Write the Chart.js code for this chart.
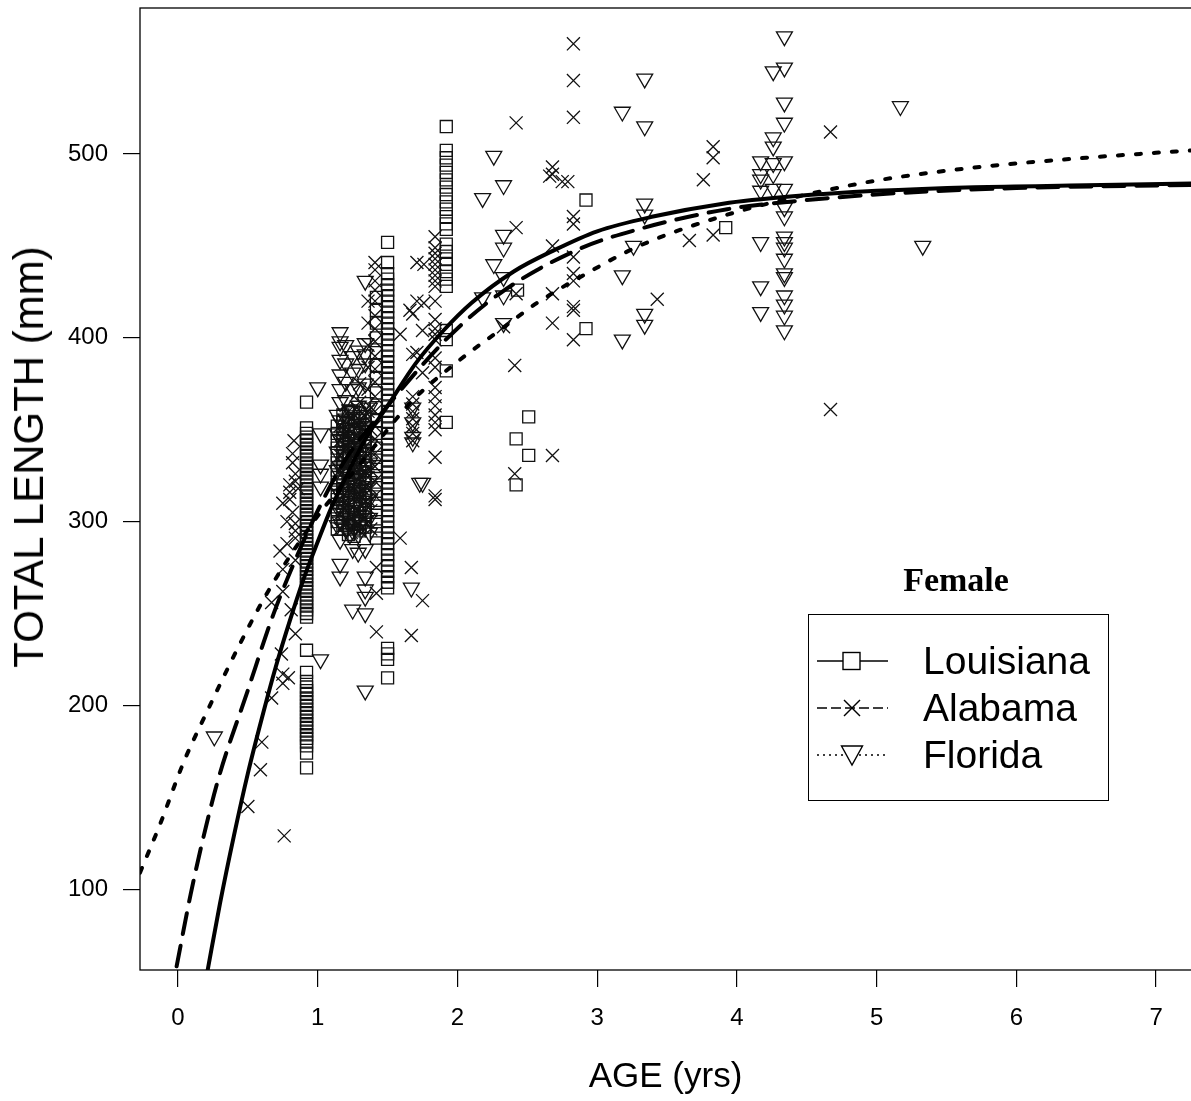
<!DOCTYPE html>
<html>
<head>
<meta charset="utf-8">
<script src="https://cdn.jsdelivr.net/npm/chart.js@4/dist/chart.umd.min.js"></script>
<style>
html,body{margin:0;padding:0;background:#fff;}
#wrap{position:relative;width:1191px;height:1101px;overflow:hidden;}
#c{position:absolute;left:0;top:0;}
#ytitle{position:absolute;left:29px;top:457px;transform:translate(-50%,-50%) rotate(-90deg);font:42px/42px "Liberation Sans",Arial,sans-serif;color:#000;white-space:nowrap;}
#female{position:absolute;left:856px;top:563px;width:200px;text-align:center;font:bold 34px/34px "Liberation Serif","Times New Roman",serif;color:#000;}
#legend{position:absolute;left:808px;top:614px;width:301px;height:187px;box-sizing:border-box;border:1.3px solid #000;background:#fff;}
.row{position:absolute;left:0;width:299px;height:38px;}
.row svg{position:absolute;left:8px;top:0;}
.row span{position:absolute;left:114px;top:0;font:39px/38px "Liberation Sans",Arial,sans-serif;color:#000;white-space:nowrap;}
</style>
</head>
<body>
<div id="wrap">
<canvas id="c" width="1191" height="1101"></canvas>
<div id="ytitle">TOTAL LENGTH (mm)</div>
<div id="female">Female</div>
<div id="legend">
  <div class="row" style="top:27px">
    <svg width="80" height="38"><line x1="0" y1="19" x2="71" y2="19" stroke="#000" stroke-width="1.3"/><rect x="26" y="10.5" width="17" height="17" fill="#fff" stroke="#000" stroke-width="1.4"/></svg>
    <span>Louisiana</span>
  </div>
  <div class="row" style="top:74px">
    <svg width="80" height="38"><line x1="0" y1="19" x2="71" y2="19" stroke="#000" stroke-width="1.3" stroke-dasharray="10,4"/><line x1="27" y1="11" x2="43" y2="27" stroke="#000" stroke-width="1.4"/><line x1="27" y1="27" x2="43" y2="11" stroke="#000" stroke-width="1.4"/></svg>
    <span>Alabama</span>
  </div>
  <div class="row" style="top:121px">
    <svg width="80" height="38"><line x1="0" y1="19" x2="71" y2="19" stroke="#000" stroke-width="1.3" stroke-dasharray="2,4"/><polygon points="24.5,10 45.5,10 35,29" fill="#fff" stroke="#000" stroke-width="1.4"/></svg>
    <span>Florida</span>
  </div>
</div>
</div>
<script>
// ---- axis ticks ----
const xTicks = [0, 1, 2, 3, 4, 5, 6, 7];
const yTicks = [100, 200, 300, 400, 500];

// ---- Louisiana observations (squares) ----
const laColAge = [0.92, 1.14, 1.18, 1.22, 1.26, 1.30, 1.34, 1.42, 1.50, 1.92];
const laColLen = [
  [365,351,348,346,344,342,340,338,336,334,332,330,328,326,324,322,320,318,316,314,312,310,308,306,304,302,300,298,296,294,292,290,288,286,284,282,280,278,276,274,272,270,268,266,264,262,260,258,256,254,252,250,248,230,218,213,210,208,206,204,202,200,198,196,194,192,190,188,186,184,182,180,178,174,166],
  [352,348,344,340,336,332,328,324,320,316,312,308,304,300,296],
  [358,354,350,346,342,338,334,330,326,322,318,314,310,306,302,298],
  [360,357,353,349,345,341,337,333,329,325,321,317,313,309,305,301,297,293],
  [356,352,348,344,340,336,332,328,324,320,316,312,308,304,300,296,292],
  [359,355,351,347,343,339,335,331,327,323,319,315,311,307,303,299,295],
  [357,353,349,345,341,337,333,329,325,321,317,313,309,305,301,297],
  [422,415,408,400,392,385,378,370,362,355,348,340,335,330,325,320,315,310,305,300,295,291],
  [452,441,435,432,429,426,423,420,417,414,411,408,405,402,399,396,393,390,387,384,381,378,375,372,369,366,363,360,357,354,351,348,345,342,339,336,333,330,327,324,321,318,315,312,309,306,303,300,297,294,291,288,285,282,279,276,273,270,267,264,231,228,225,215],
  [515,502,498,494,490,486,482,478,474,470,466,462,459,451,447,443,440,436,432,428,404,399,382,354]
];
const laAge = [2.51, 2.42, 2.51, 2.42, 2.43, 2.92, 2.92, 3.92];
const laLen = [357, 345, 336, 320, 426, 475, 405, 460];

// ---- Alabama observations (crosses) ----
const alColAge = [1.16, 1.19, 1.22, 1.24, 1.28, 1.30, 1.32, 1.34, 1.36, 1.38, 1.41, 1.68, 1.84];
const alColLen = [
  [296,304,312,320,328,336,344,352],
  [299,307,315,323,331,339,347,355],
  [300,310,320,330,340,350,360],
  [294,302,314,326,334,344,356],
  [298,306,314,322,330,338,346,354,362],
  [295,305,315,325,335,345,355,365,375],
  [297,309,318,329,339,351,359],
  [302,311,319,327,341,349,357],
  [300,312,324,336,348,360,372,384,396,408,420],
  [296,306,318,328,338,350,362],
  [441,437,431,426,420,412,405,398,390,383,376,368,360,352,345,337,330,322,314],
  [368,364,360,356,352,348,344],
  [455,449,446,443,440,437,434,431,428,420,410,405,402,399,389,384,373,368,363,358,354,350,335,314,312]
];
const alAge = [0.60,0.59,0.50,0.76,0.67,0.75,0.79,0.75,0.74,0.84,0.81,0.75,0.67,0.75,0.73,0.78,0.84,0.75,0.84,0.84,0.84,0.84,0.84,0.83,0.80,0.80,0.80,0.82,0.78,0.82,0.82,0.86,
  1.42,1.42,1.42,1.59,1.59,1.67,1.75,1.67,1.68,1.68,1.76,1.76,1.75,1.75,1.71,1.66,1.71,1.71,
  2.42,2.42,2.68,2.68,2.79,2.83,2.83,2.83,2.68,2.68,2.68,2.83,2.83,2.83,2.83,2.83,2.83,2.83,2.83,2.42,2.41,2.68,2.41,2.33,3.43,3.66,3.83,3.76,3.83,3.83,4.67,4.67,2.75,2.66];
const alLen = [180,165,145,129,204,217,215,212,228,239,252,262,256,274,284,288,279,310,299,295,291,322,326,344,320,316,312,305,300,332,337,318,
  240,261,275,402,291,275,257,238,413,391,440,419,404,381,441,415,420,392,
  517,460,493,489,485,560,540,520,450,424,408,466,462,444,435,431,417,415,399,424,385,336,326,406,421,453,456,486,504,498,512,361,485,488];

// ---- Florida observations (down triangles) ----
const flColAge = [1.14, 1.16, 1.20, 1.23, 1.25, 1.29, 1.31, 1.34, 1.37];
const flColLen = [
  [358,348,338,328,318,308,298],
  [403,398,395,388,380,372,365,355,345,330,315,300,290,277,270],
  [396,386,376,366,356,346,336,326,316,306,296],
  [361,351,341,331,321,311,301,293],
  [390,381,372,360,340,320,305,295,285,252],
  [393,383,373,363,353,343,333,323,313,303,293,283],
  [358,348,338,328,318,308,298],
  [431,397,391,386,375,365,350,330,310,300,285,270,263,259,250,208],
  [362,352,342,332,322,312,302,294]
];
const flAge = [0.26,1.00,1.02,1.02,1.02,1.02,1.02,1.67,1.73,1.75,1.68,1.68,1.68,1.68,
  2.26,2.33,2.18,2.33,2.33,2.26,2.33,2.18,2.33,2.33,3.18,3.34,3.34,3.26,3.18,3.34,3.34,3.34,3.34,3.18,
  4.34,4.34,4.26,4.34,4.34,4.26,4.26,4.17,4.26,4.34,4.17,4.17,4.26,4.17,4.26,4.34,4.34,4.34,4.17,4.34,4.34,4.34,4.34,4.34,4.34,4.17,4.34,4.34,4.17,4.34,4.34,5.17,5.33];
const flLen = [183,373,348,331,326,319,225,264,321,321,362,354,346,343,
  499,483,476,456,449,440,433,422,423,408,523,541,515,450,434,473,467,413,407,399,
  564,547,545,528,517,509,504,496,495,496,489,486,489,480,481,481,471,466,452,455,452,449,443,435,433,428,423,418,414,412,404,526,450];

// ---- fitted growth curves ----
const laFitAge = [0.21,0.3,0.4,0.5,0.6,0.7,0.8,0.9,1.0,1.1,1.2,1.35,1.5,1.7,1.9,2.1,2.4,2.7,3.0,3.4,3.9,4.4,5.0,5.7,6.5,7.25];
const laFitLen = [55,92,129,163,193,221,246,269,289,308,324,346,363,386,404,419,436,448,458,466,473,477,480,482,483,484];
const alFitAge = [-0.01,0.09,0.2,0.3,0.49,0.68,0.85,1.02,1.2,1.5,1.93,2.3,2.86,3.29,3.93,4.5,5.2,6.0,7.25];
const alFitLen = [58,97,134,163,206,249,281,309,334,363,400,424,448,459,470,475,479,481.5,483.2];
const flFitAge = [-0.272,-0.13,0.04,0.21,0.44,0.66,0.99,1.3,1.68,2.0,2.3,2.57,2.9,3.3,3.93,4.5,5.03,5.74,6.5,7.25];
const flFitLen = [109,135,169,197,233,264,302,331,366,387,404,419,434,450,467,478,486,493,498,502];

function pts(colAge, colLen, age, len) {
  const out = [];
  colAge.forEach((a, i) => colLen[i].forEach(v => out.push({x: a, y: v})));
  age.forEach((a, i) => out.push({x: a, y: len[i]}));
  return out;
}
function line(age, len) { return age.map((a, i) => ({x: a, y: len[i]})); }

const markerBase = {
  showLine: false,
  backgroundColor: 'rgba(0,0,0,0)',
  borderColor: '#000',
  pointBackgroundColor: 'rgba(0,0,0,0)',
  pointBorderColor: '#111',
  pointBorderWidth: 1.3,
  order: 2
};
const curveBase = {
  showLine: true,
  pointRadius: 0,
  borderColor: '#000',
  borderWidth: 4,
  borderCapStyle: 'round',
  cubicInterpolationMode: 'monotone',
  fill: false,
  order: 0
};

const boxPlugin = {
  id: 'box',
  afterDraw(chart) {
    const {ctx, chartArea: a} = chart;
    ctx.save();
    ctx.strokeStyle = '#000';
    ctx.lineWidth = 1.3;
    ctx.strokeRect(a.left, a.top, a.right - a.left + 10, a.bottom - a.top);
    ctx.restore();
  }
};

new Chart(document.getElementById('c'), {
  type: 'scatter',
  data: {
    datasets: [
      Object.assign({}, curveBase, {label: 'Louisiana fit', data: line(laFitAge, laFitLen)}),
      Object.assign({}, curveBase, {label: 'Alabama fit', data: line(alFitAge, alFitLen), borderDash: [21, 12]}),
      Object.assign({}, curveBase, {label: 'Florida fit', data: line(flFitAge, flFitLen), borderDash: [5, 13]}),
      Object.assign({}, markerBase, {label: 'Louisiana', data: pts(laColAge, laColLen, laAge, laLen), pointStyle: 'rect', pointRadius: 8.5}),
      Object.assign({}, markerBase, {label: 'Alabama', data: pts(alColAge, alColLen, alAge, alLen), pointStyle: 'crossRot', pointRadius: 9.2}),
      Object.assign({}, markerBase, {label: 'Florida', data: pts(flColAge, flColLen, flAge, flLen), pointStyle: 'triangle', pointRotation: 180, pointRadius: 9.2})
    ]
  },
  options: {
    responsive: false,
    animation: false,
    events: [],
    layout: {autoPadding: false, padding: {top: 8, left: 0, right: 0, bottom: 0}},
    plugins: {legend: {display: false}, tooltip: {enabled: false}},
    scales: {
      x: {
        type: 'linear', min: -0.272, max: 7.25,
        afterBuildTicks: s => { s.ticks = xTicks.map(v => ({value: v})); },
        afterFit: s => { s.height = 131; s.paddingLeft = 0; s.paddingRight = 0; },
        grid: {display: true, drawOnChartArea: false, drawTicks: true, tickLength: 17, color: '#000', lineWidth: 1.2},
        border: {display: false},
        ticks: {color: '#000', font: {family: '"Liberation Sans", Arial, sans-serif', size: 24}, padding: 17, maxRotation: 0, autoSkip: false},
        title: {display: true, text: 'AGE (yrs)', color: '#000', font: {family: '"Liberation Sans", Arial, sans-serif', size: 35}, padding: {top: 0, bottom: 3}}
      },
      y: {
        type: 'linear', min: 56, max: 579.5,
        afterBuildTicks: s => { s.ticks = yTicks.map(v => ({value: v})); },
        afterFit: s => { s.width = 140; s.paddingTop = 0; s.paddingBottom = 0; },
        grid: {display: true, drawOnChartArea: false, drawTicks: true, tickLength: 17, color: '#000', lineWidth: 1.2},
        border: {display: false},
        ticks: {color: '#000', font: {family: '"Liberation Sans", Arial, sans-serif', size: 24}, padding: 15, autoSkip: false},
        title: {display: false}
      }
    }
  },
  plugins: [boxPlugin]
});
</script>
</body>
</html>
